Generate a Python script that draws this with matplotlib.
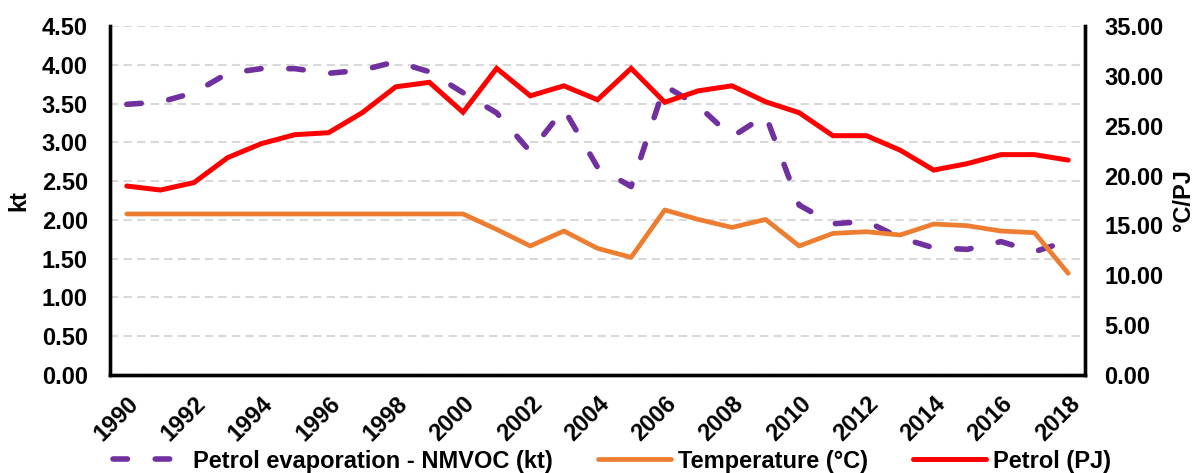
import matplotlib
matplotlib.use("Agg")
import matplotlib.pyplot as plt
import numpy as np

years = list(range(1990, 2019))
nmvoc_kt = [3.49, 3.52, 3.64, 3.89, 3.95, 3.95, 3.89, 3.93, 4.04, 3.91, 3.64, 3.38, 2.88,
            3.43, 2.68, 2.43, 3.73, 3.47, 3.07, 3.35, 2.19, 1.95, 1.98, 1.77, 1.64, 1.62,
            1.72, 1.59, 1.73]
temperature_c = [16.15] * 11 + [14.6, 12.94, 14.44, 12.7, 11.8, 16.55, 15.6, 14.8, 15.6,
                                12.94, 14.2, 14.37, 14.04, 15.14, 14.97, 14.44, 14.27, 10.2]
petrol_pj = [18.95, 18.55, 19.3, 21.8, 23.2, 24.1, 24.3, 26.3, 28.9, 29.35, 26.35, 30.75,
             28.0, 29.0, 27.6, 30.75, 27.35, 28.5, 29.0, 27.4, 26.3, 24.0, 24.0, 22.55,
             20.55, 21.2, 22.1, 22.1, 21.55]
left_ticks = [0.0, 0.5, 1.0, 1.5, 2.0, 2.5, 3.0, 3.5, 4.0, 4.5]
right_ticks = [0, 5, 10, 15, 20, 25, 30, 35]
label_years = years[::2]

FONT = "Liberation Sans"
FS = 17
plt.rcParams['font.family'] = [FONT, 'DejaVu Sans']
plt.rcParams['font.weight'] = 'bold'

fig = plt.figure(figsize=(12.01, 4.73), dpi=100)
ax = fig.add_axes([110 / 1201, (473 - 375) / 473, 975 / 1201, 349 / 473])
ax2 = ax.twinx()

x = np.arange(len(years))
l1, = ax.plot(x, nmvoc_kt, color='#7030A0', lw=4.0, linestyle=(0, (2.6, 5.0)),
              dash_capstyle='round', solid_capstyle='round',
              label='Petrol evaporation - NMVOC (kt)')
l2, = ax2.plot(x, temperature_c, color='#ED7D31', lw=3.4, solid_capstyle='round',
               solid_joinstyle='round', label='Temperature (°C)')
l3, = ax2.plot(x, petrol_pj, color='#FF0000', lw=3.6, solid_capstyle='round',
               solid_joinstyle='miter', label='Petrol (PJ)')

ax.set_xlim(-0.5, len(years) - 0.5)
ax.set_ylim(0, 4.5)
ax2.set_ylim(0, 35)
ax.set_yticks(left_ticks)
ax.set_yticklabels([f"{v:.2f}" for v in left_ticks])
ax2.set_yticks(right_ticks)
ax2.set_yticklabels([f"{v:.2f}" for v in right_ticks])

# x ticks: marks at category boundaries every 2, labels at centres
ax.set_xticks(np.arange(-0.5, len(years), 2))
ax.set_xticklabels([])
ax.set_xticks(np.arange(0, len(years), 2), minor=True)
ax.set_xticklabels([str(y) for y in label_years], minor=True, rotation=45,
                   ha='right', va='top', rotation_mode='anchor', fontsize=FS,
                   fontweight='bold')
ax.tick_params(axis='x', which='major', length=5.5, width=1.8, direction='in')
ax.tick_params(axis='x', which='minor', length=0, pad=12)
ax2.set_xticks([])

ax.tick_params(axis='y', length=0, pad=16, labelsize=FS)
ax2.tick_params(axis='y', length=0, pad=14, labelsize=FS)
for lab in ax.get_yticklabels() + ax2.get_yticklabels():
    lab.set_fontweight('bold')

ax.grid(axis='y', color='#D9D9D9', linestyle=(0, (4, 2.5)), lw=1.5)
ax.set_axisbelow(True)

for a in (ax, ax2):
    a.spines['top'].set_visible(False)
    for s in ('left', 'right', 'bottom'):
        a.spines[s].set_linewidth(2.4)
        a.spines[s].set_color('black')

ax.set_ylabel('kt', fontsize=FS, fontweight='bold', labelpad=8)
ax2.set_ylabel('°C/PJ', fontsize=FS, fontweight='bold', labelpad=6)

fig.legend(handles=[l1, l2, l3], loc='center', bbox_to_anchor=(612 / 1201, 12 / 473),
           ncol=3, frameon=False, handlelength=3.1, columnspacing=1.9,
           handletextpad=0.3, prop={'weight': 'bold', 'size': FS})

fig.savefig('out.png', dpi=100)
